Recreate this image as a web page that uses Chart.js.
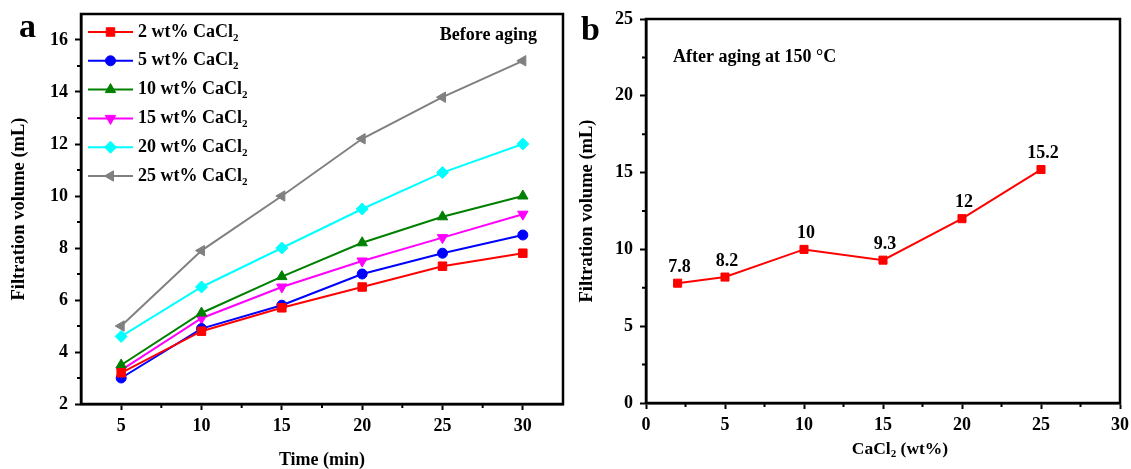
<!DOCTYPE html>
<html>
<head>
<meta charset="utf-8">
<script src="https://cdn.jsdelivr.net/npm/chart.js@4.4.1/dist/chart.umd.min.js"></script>
<style>
    html, body { margin: 0; padding: 0; background: #fff; }
    #wrap { position: relative; width: 1131px; height: 469px; overflow: hidden; }
    canvas { position: absolute; top: 0; }
    #Chart1 { left: 0; }
    #Chart2 { left: 570px; }
</style>
</head>
<body>
<div id="wrap">
    <canvas id="Chart1" width="570" height="469"></canvas>
    <canvas id="Chart2" width="561" height="469"></canvas>
</div>
<script>
// panel a : filtration volume vs time, before aging
var timeMin = [5, 10, 15, 20, 25, 30];
var vol2 = [3.2, 4.8, 5.7, 6.5, 7.3, 7.8];
var vol5 = [3.0, 4.9, 5.8, 7.0, 7.8, 8.5];
var vol10 = [3.5, 5.5, 6.9, 8.2, 9.2, 10.0];
var vol15 = [3.3, 5.3, 6.5, 7.5, 8.4, 9.3];
var vol20 = [4.6, 6.5, 8.0, 9.5, 10.9, 12.0];
var vol25 = [5.0, 7.9, 10.0, 12.2, 13.8, 15.2];
var seriesLabels = ['2 wt% CaCl₂', '5 wt% CaCl₂', '10 wt% CaCl₂', '15 wt% CaCl₂', '20 wt% CaCl₂', '25 wt% CaCl₂'];
var timeTicks = [5, 10, 15, 20, 25, 30];
var volTicksA = [2, 4, 6, 8, 10, 12, 14, 16];

// panel b : filtration volume vs CaCl2, after aging at 150 C
var agedCacl2 = [2, 5, 10, 15, 20, 25];
var agedVol = [7.8, 8.2, 10, 9.3, 12, 15.2];
var agedValueLabels = ['7.8', '8.2', '10', '9.3', '12', '15.2'];
var cacl2Ticks = [0, 5, 10, 15, 20, 25, 30];
var volTicksB = [0, 5, 10, 15, 20, 25];

var FONT = '"Liberation Serif", "Times New Roman", serif';
Chart.defaults.font.family = FONT;
Chart.defaults.font.weight = 'bold';
Chart.defaults.color = '#000';

function toXY(xs, ys) {
    return xs.map(function (x, i) { return { x: x, y: ys[i] }; });
}

function midpoints(arr) {
    var out = [];
    for (var i = 0; i < arr.length - 1; i++) out.push((arr[i] + arr[i + 1]) / 2);
    return out;
}

// text with a subscript 2 (CaCl₂)
function drawRich(ctx, text, x, y, size, align) {
    var parts = text.split('₂');
    var subSize = Math.round(size * 0.62);
    var w = 0, i;
    for (i = 0; i < parts.length; i++) {
        ctx.font = 'bold ' + size + 'px ' + FONT;
        w += ctx.measureText(parts[i]).width;
        if (i < parts.length - 1) {
            ctx.font = 'bold ' + subSize + 'px ' + FONT;
            w += ctx.measureText('2').width;
        }
    }
    var cx = align === 'center' ? x - w / 2 : (align === 'right' ? x - w : x);
    ctx.textAlign = 'left';
    ctx.textBaseline = 'middle';
    for (i = 0; i < parts.length; i++) {
        ctx.font = 'bold ' + size + 'px ' + FONT;
        ctx.fillText(parts[i], cx, y);
        cx += ctx.measureText(parts[i]).width;
        if (i < parts.length - 1) {
            ctx.font = 'bold ' + subSize + 'px ' + FONT;
            ctx.fillText('2', cx, y + size * 0.32);
            cx += ctx.measureText('2').width;
        }
    }
}

// closed frame + small minor ticks outside the axes
var frameTicks = {
    id: 'frameTicks',
    afterDraw: function (chart, args, opts) {
        var ctx = chart.ctx, a = chart.chartArea;
        var xs = chart.scales.x, ys = chart.scales.y;
        ctx.save();
        ctx.strokeStyle = '#000';
        ctx.lineWidth = 2.5;
        ctx.strokeRect(a.left, a.top, a.right - a.left, a.bottom - a.top);
        ctx.lineWidth = 2;
        ctx.beginPath();
        opts.x.forEach(function (v) {
            var px = xs.getPixelForValue(v);
            ctx.moveTo(px, a.bottom);
            ctx.lineTo(px, a.bottom + 4);
        });
        opts.y.forEach(function (v) {
            var py = ys.getPixelForValue(v);
            ctx.moveTo(a.left, py);
            ctx.lineTo(a.left - 4, py);
        });
        ctx.stroke();
        ctx.restore();
    }
};

function axis(min, max, ticks, size, title, titlePad, isX) {
    return {
        type: 'linear',
        min: min,
        max: max,
        afterBuildTicks: function (scale) {
            scale.ticks = ticks.map(function (v) { return { value: v }; });
        },
        afterFit: function (scale) {
            if (isX) {
                scale.height = size;
                scale.paddingLeft = 0;
                scale.paddingRight = 0;
            } else {
                scale.width = size;
                scale.paddingTop = 0;
                scale.paddingBottom = 0;
            }
        },
        border: { color: '#000', width: 2.5 },
        grid: { drawOnChartArea: false, drawTicks: true, tickLength: 6, tickWidth: 2, tickColor: '#000' },
        ticks: { font: { size: 18, weight: 'bold' }, color: '#000', padding: isX ? 6 : 7, maxRotation: 0, autoSkip: false },
        title: {
            display: !!title,
            text: title,
            color: '#000',
            font: { size: isX ? 18 : 18.5, weight: 'bold', lineHeight: isX ? 1.0 : 1.2 },
            padding: titlePad
        }
    };
}

function getBeforeAgingChart() {
    var colors = ['#ff0000', '#0000ff', '#008000', '#ff00ff', '#00ffff', '#808080'];
    var styles = ['rect', 'circle', 'triangle', 'triangle', 'rectRot', 'triangle'];
    var rotations = [0, 0, 0, 180, 0, 270];
    var radii = [6, 5, 6, 6, 6, 6];
    var values = [vol2, vol5, vol10, vol15, vol20, vol25];

    var datasets = values.map(function (v, i) {
        return {
            label: seriesLabels[i],
            data: toXY(timeMin, v),
            borderColor: colors[i],
            backgroundColor: colors[i],
            borderWidth: 2,
            pointStyle: styles[i],
            rotation: rotations[i],
            pointRadius: radii[i],
            pointBorderWidth: 1,
            pointBackgroundColor: colors[i],
            pointBorderColor: colors[i],
            tension: 0
        };
    });

    var notesA = {
        id: 'notesA',
        afterDraw: function (chart) {
            var ctx = chart.ctx, a = chart.chartArea;
            ctx.save();
            chart.data.datasets.forEach(function (ds, i) {
                var y = a.top + 18 + i * 28.8;
                ctx.strokeStyle = ds.borderColor;
                ctx.lineWidth = 2;
                ctx.beginPath();
                ctx.moveTo(a.left + 7, y);
                ctx.lineTo(a.left + 52, y);
                ctx.stroke();
                ctx.fillStyle = ds.backgroundColor;
                ctx.strokeStyle = ds.borderColor;
                ctx.lineWidth = 1;
                Chart.helpers.drawPoint(ctx, { pointStyle: ds.pointStyle, rotation: ds.rotation, radius: ds.pointRadius, borderWidth: 1 }, a.left + 29.5, y);
                ctx.fillStyle = '#000';
                drawRich(ctx, ds.label, a.left + 57, y, 18, 'left');
            });
            ctx.fillStyle = '#000';
            drawRich(ctx, 'Before aging', a.right - 26, a.top + 21, 18, 'right');
            ctx.font = 'bold 34px ' + FONT;
            ctx.textAlign = 'left';
            ctx.textBaseline = 'alphabetic';
            ctx.fillText('a', 19, 37);
            ctx.restore();
        }
    };

    new Chart(document.getElementById('Chart1'), {
        type: 'line',
        data: { datasets: datasets },
        options: {
            responsive: false,
            animation: false,
            layout: { padding: { left: 0, right: 7, top: 14, bottom: 0 } },
            scales: {
                x: axis(2.5, 32.5, timeTicks, 65, 'Time (min)', { top: 0, bottom: 0 }, true),
                y: axis(2, 17, volTicksA, 81, 'Filtration volume (mL)', { top: 8, bottom: 0 }, false)
            },
            plugins: {
                legend: { display: false },
                tooltip: { enabled: false },
                frameTicks: { x: midpoints(timeTicks), y: midpoints(volTicksA) }
            }
        },
        plugins: [frameTicks, notesA]
    });
}

function getAfterAgingChart() {
    var notesB = {
        id: 'notesB',
        afterDraw: function (chart) {
            var ctx = chart.ctx, a = chart.chartArea;
            var meta = chart.getDatasetMeta(0);
            ctx.save();
            ctx.fillStyle = '#000';
            ctx.font = 'bold 18px ' + FONT;
            ctx.textAlign = 'center';
            ctx.textBaseline = 'middle';
            meta.data.forEach(function (pt, i) {
                ctx.fillText(agedValueLabels[i], pt.x + 2, pt.y - 16);
            });
            drawRich(ctx, 'After aging at 150 °C', a.left + 27, a.top + 38, 18, 'left');
            drawRich(ctx, 'CaCl₂ (wt%)', (a.left + a.right) / 2 + 17, 449, 17.5, 'center');
            ctx.font = 'bold 34px ' + FONT;
            ctx.textAlign = 'left';
            ctx.textBaseline = 'alphabetic';
            ctx.fillText('b', 11, 40);
            ctx.restore();
        }
    };

    new Chart(document.getElementById('Chart2'), {
        type: 'line',
        data: {
            datasets: [{
                label: 'After aging at 150 °C',
                data: toXY(agedCacl2, agedVol),
                borderColor: '#ff0000',
                backgroundColor: '#ff0000',
                borderWidth: 2,
                pointStyle: 'rect',
                pointRadius: 5.7,
                pointBorderWidth: 1,
                pointBackgroundColor: '#ff0000',
                pointBorderColor: '#ff0000',
                tension: 0
            }]
        },
        options: {
            responsive: false,
            animation: false,
            layout: { padding: { left: 0, right: 11, top: 19, bottom: 0 } },
            scales: {
                x: axis(0, 30, cacl2Ticks, 66, '', { top: 0, bottom: 0 }, true),
                y: axis(0, 25, volTicksB, 76, 'Filtration volume (mL)', { top: 6, bottom: 0 }, false)
            },
            plugins: {
                legend: { display: false },
                tooltip: { enabled: false },
                frameTicks: { x: midpoints(cacl2Ticks), y: midpoints(volTicksB) }
            }
        },
        plugins: [frameTicks, notesB]
    });
}

getBeforeAgingChart();
getAfterAgingChart();
</script>
</body>
</html>
